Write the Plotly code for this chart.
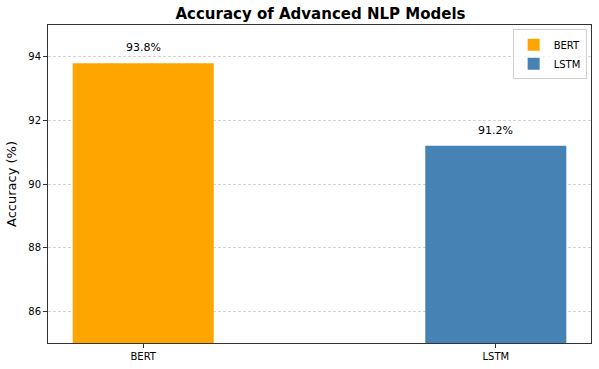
import plotly.graph_objects as go

models = ["BERT", "LSTM"]
accuracy = [93.8, 91.2]
colors = ["#FFA500", "#4682B4"]
y_ticks = [86, 88, 90, 92, 94]

fig = go.Figure()
for m, v, c in zip(models, accuracy, colors):
    fig.add_trace(go.Bar(x=[m], y=[v], name=m, marker=dict(color=c, line=dict(width=0)),
                         width=0.4))
    fig.add_annotation(x=m, y=v, text=f"{v}%", showarrow=False, yanchor="bottom",
                       yshift=7, font=dict(size=11, color="black", family="DejaVu Sans"))

fig.update_layout(
    width=599, height=369,
    barmode="overlay",
    paper_bgcolor="white", plot_bgcolor="white",
    margin=dict(l=48, r=7, t=25, b=22),
    font=dict(family="DejaVu Sans", size=10, color="black"),
    title=dict(text="<b>Accuracy of Advanced NLP Models</b>", x=0.535, xanchor="center",
               y=0.962, yanchor="middle", font=dict(size=15, color="black")),
    legend=dict(x=0.992, y=0.987, xanchor="right", yanchor="top",
                bordercolor="#d0d0d0", borderwidth=1, bgcolor="rgba(255,255,255,0.8)",
                font=dict(size=10), itemwidth=30, tracegroupgap=2),
    showlegend=True,
)
fig.update_xaxes(range=[-0.27, 1.27], showline=True, linecolor="#333", linewidth=1, mirror=True,
                 ticks="outside", ticklen=4, tickcolor="#333", showgrid=False,
                 tickfont=dict(size=10))
fig.update_yaxes(range=[85, 95], tickvals=y_ticks, showline=True, linecolor="#333", linewidth=1,
                 mirror=True, ticks="outside", ticklen=4, tickcolor="#333",
                 showgrid=True, gridcolor="#d3d3d3", griddash="3px,2px", gridwidth=0.8,
                 zeroline=False, tickfont=dict(size=10),
                 title=dict(text="Accuracy (%)", font=dict(size=13), standoff=8))
fig.write_html("out.html", config={"displayModeBar": False},
               post_script="document.body.style.margin='0';")
